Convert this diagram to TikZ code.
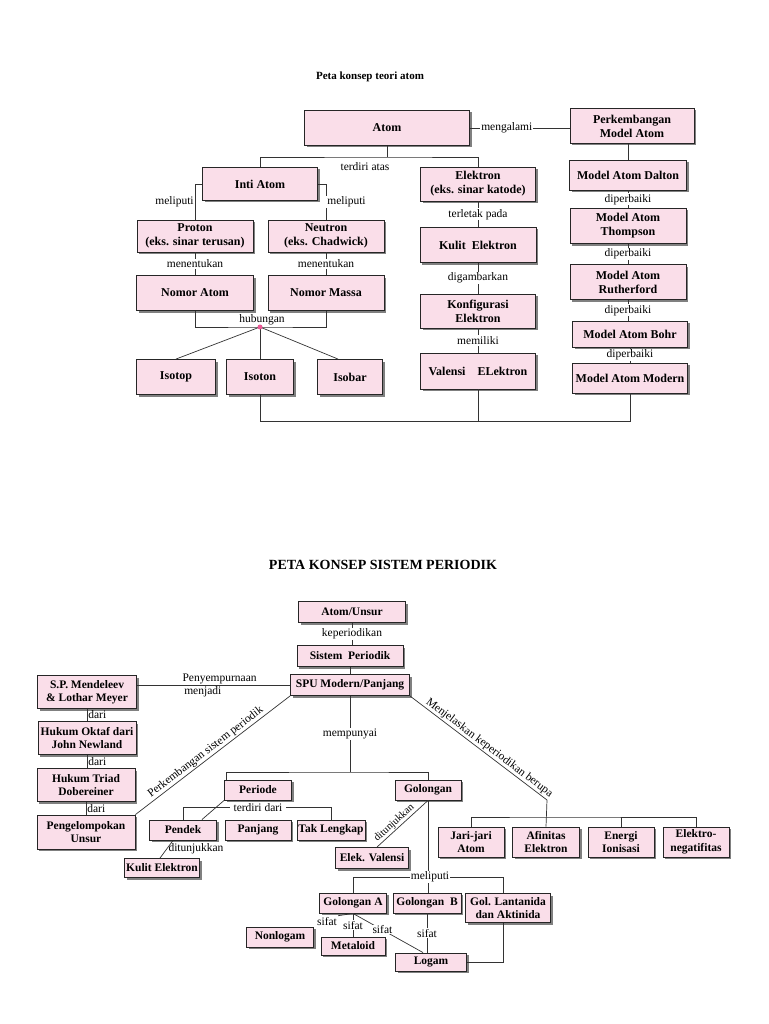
\documentclass[tikz,border=0pt]{standalone}
\usepackage{fontspec}
\setmainfont{Liberation Serif}
\usetikzlibrary{shadows}
\definecolor{merahmuda}{RGB}{250,222,233}
\definecolor{titikpink}{RGB}{235,90,150}

\begin{document}
\begin{tikzpicture}
	[x=1pt, y=-1pt,
	kotak/.style={draw=black!85, line width=0.9pt, fill=merahmuda, align=center, inner sep=1pt,
		font=\bfseries\fontsize{12}{14}\selectfont,
		drop shadow={shadow xshift=2pt, shadow yshift=-2pt, fill=black!50, opacity=1}},
	kotakkecil/.style={kotak, font=\bfseries\fontsize{11.5}{13.5}\selectfont},
	teks/.style={inner sep=1pt, font=\fontsize{11.5}{12}\selectfont},
	ket/.style={teks, fill=white},
	hub/.style={draw=black!80, line width=0.7pt}]
	\fill[white] (0,0) rectangle (768,1024);
	\useasboundingbox (0,0) rectangle (768,1024);

	\node[font=\bfseries\fontsize{11}{13}\selectfont] (judulatom) at (370,77) {Peta konsep teori atom};

	\node[kotak, minimum width=165, minimum height=35] (atom) at (387,128) {Atom};
	\node[kotak, minimum width=124, minimum height=35] (perkembangan) at (632,126) {Perkembangan\\Model Atom};
	\node[kotak, minimum width=115, minimum height=33] (inti) at (260,184) {Inti Atom};
	\node[kotak, minimum width=115, minimum height=34] (elektron) at (478,184) {Elektron\\(eks. sinar katode)};
	\node[kotak, minimum width=116, minimum height=32] (proton) at (195,236) {Proton\\(eks. sinar terusan)};
	\node[kotak, minimum width=116, minimum height=32] (neutron) at (326,236) {Neutron\\(eks. Chadwick)};
	\node[kotak, minimum width=117, minimum height=35] (nomoratom) at (195,293) {Nomor Atom};
	\node[kotak, minimum width=116, minimum height=35] (nomormassa) at (326,293) {Nomor Massa};
	\node[kotak, minimum width=79, minimum height=35] (isotop) at (176,377) {Isotop};
	\node[kotak, minimum width=67, minimum height=35] (isoton) at (260,377) {Isoton};
	\node[kotak, minimum width=65, minimum height=35] (isobar) at (350,377) {Isobar};
	\node[kotak, minimum width=116, minimum height=35] (kulit) at (478,245) {Kulit\ \ Elektron};
	\node[kotak, minimum width=115, minimum height=34] (konfigurasi) at (478,311) {Konfigurasi\\Elektron};
	\node[kotak, minimum width=115, minimum height=36] (valensi) at (478,371) {Valensi\quad ELektron};
	\node[kotak, minimum width=117, minimum height=30] (dalton) at (628,175) {Model Atom Dalton};
	\node[kotak, minimum width=116, minimum height=35] (thompson) at (628,226) {Model Atom\\Thompson};
	\node[kotak, minimum width=116, minimum height=35] (rutherford) at (628,282) {Model Atom\\Rutherford};
	\node[kotak, minimum width=115, minimum height=26] (bohr) at (630,334) {Model Atom Bohr};
	\node[kotak, minimum width=115, minimum height=30] (modern) at (630,378) {Model Atom Modern};

	\draw[hub] (atom.east) -- node[ket, pos=0.37]{mengalami} (atom.east -| perkembangan.west);
	\coordinate (terdiri) at (387,157);
	\draw[hub] (atom.south) -- (terdiri);
	\draw[hub] (inti.north) |- (terdiri) -| (elektron.north);
	\node[teks] (lterdiri) at (365,167) {terdiri atas};
	\draw[hub] (inti.west) -| node[ket, pos=0.75, left]{meliputi} (proton.north);
	\draw[hub] (inti.east) -| node[ket, pos=0.75, right]{meliputi} (neutron.north);
	\draw[hub] (proton) -- node[ket]{menentukan} (nomoratom);
	\draw[hub] (neutron) -- node[ket]{menentukan} (nomormassa);
	\coordinate (hubungan) at (260,327);
	\draw[hub] (nomoratom.south) |- (hubungan) -| (nomormassa.south);
	\node[teks, above, inner sep=1.5pt] (lhubungan) at (262,327) {hubungan};
	\draw[hub] (hubungan) -- (isotop.north);
	\draw[hub] (hubungan) -- (isoton.north);
	\draw[hub] (hubungan) -- ([xshift=-12pt]isobar.north);
	\fill[titikpink] (hubungan) circle (2.5pt);
	\coordinate (dasar) at (260,421);
	\draw[hub] (isoton.south) |- (dasar) -| (modern.south);
	\draw[hub] (valensi.south) -- (valensi.south |- dasar);
	\draw[hub] (elektron) -- node[ket]{terletak pada} (kulit);
	\draw[hub] (kulit) -- node[ket]{digambarkan} (konfigurasi);
	\draw[hub] (konfigurasi) -- node[ket]{memiliki} (valensi);
	\draw[hub] (perkembangan.south -| dalton) -- (dalton);
	\draw[hub] (dalton) -- node[ket]{diperbaiki} (thompson);
	\draw[hub] (thompson) -- node[ket]{diperbaiki} (rutherford);
	\draw[hub] (rutherford.south) -- node[ket]{diperbaiki} (rutherford.south |- bohr.north);
	\draw[hub] (bohr) -- node[ket]{diperbaiki} (modern);

	\node[font=\bfseries\fontsize{14}{16}\selectfont] (judulperiodik) at (383,565) {PETA KONSEP SISTEM PERIODIK};

	\node[kotakkecil, minimum width=107, minimum height=21] (atomunsur) at (352,612) {Atom/Unsur};
	\node[kotakkecil, minimum width=106, minimum height=21] (sistem) at (350,656) {Sistem\ \ Periodik};
	\node[kotakkecil, minimum width=119, minimum height=21] (spu) at (350,685) {SPU Modern/Panjang};
	\node[kotakkecil, minimum width=99, minimum height=33] (mendeleev) at (87,692) {S.P. Mendeleev\\\& Lothar Meyer};
	\node[kotakkecil, minimum width=98, minimum height=33] (oktaf) at (87,738) {Hukum Oktaf dari\\John Newland};
	\node[kotakkecil, minimum width=98, minimum height=33] (triad) at (86,785) {Hukum Triad\\Dobereiner};
	\node[kotakkecil, minimum width=98, minimum height=34] (pengelompokan) at (86,832) {Pengelompokan\\Unsur};
	\node[kotakkecil, minimum width=67, minimum height=20] (periode) at (258,790) {Periode};
	\node[kotakkecil, minimum width=66, minimum height=20] (golongan) at (428,790) {Golongan};
	\node[kotakkecil, minimum width=67, minimum height=20] (pendek) at (183,830) {Pendek};
	\node[kotakkecil, minimum width=66, minimum height=20] (panjang) at (258,830) {Panjang};
	\node[kotakkecil, minimum width=68, minimum height=20] (taklengkap) at (331,830) {Tak Lengkap};
	\node[kotakkecil, minimum width=75, minimum height=19] (kulitpendek) at (162,868) {Kulit Elektron};
	\node[kotakkecil, minimum width=73, minimum height=21] (valensigol) at (372,858) {Elek. Valensi};
	\node[kotakkecil, minimum width=66, minimum height=30] (jarijari) at (471,842) {Jari-jari\\Atom};
	\node[kotakkecil, minimum width=67, minimum height=30] (afinitas) at (546,842) {Afinitas\\Elektron};
	\node[kotakkecil, minimum width=66, minimum height=30] (energi) at (621,842) {Energi\\Ionisasi};
	\node[kotakkecil, minimum width=66, minimum height=30] (elektroneg) at (696,842) {Elektro-\\negatifitas};
	\node[kotakkecil, minimum width=67, minimum height=20] (golA) at (353,903) {Golongan A};
	\node[kotakkecil, minimum width=68, minimum height=20] (golB) at (427,903) {Golongan\ \ B};
	\node[kotakkecil, minimum width=85, minimum height=29] (lantanida) at (508,908) {Gol. Lantanida\\dan Aktinida};
	\node[kotakkecil, minimum width=67, minimum height=20] (nonlogam) at (280,937) {Nonlogam};
	\node[kotakkecil, minimum width=64, minimum height=18] (metaloid) at (353,946) {Metaloid};
	\node[kotakkecil, minimum width=71, minimum height=18] (logam) at (431,962) {Logam};

	\draw[hub] (atomunsur.south) -- node[ket]{keperiodikan} (atomunsur.south |- sistem.north);
	\draw[hub] (sistem) -- (spu);
	\draw[hub] (spu.west) -- node[teks, pos=0.46, above]{Penyempurnaan} node[teks, pos=0.57, below]{menjadi} (spu.west -| mendeleev.east);
	\draw[hub] (mendeleev) -- node[teks, right]{dari} (oktaf);
	\draw[hub] (oktaf.south) -- node[teks, right]{dari} (oktaf.south |- triad.north);
	\draw[hub] (triad) -- node[teks, right]{dari} (pengelompokan);
	\draw[hub] (pengelompokan.north east) -- node[teks, sloped, above, pos=0.48]{Perkembangan sistem periodik} (spu.south west);
	\coordinate (berupa) at (547,800);
	\draw[hub] (spu.south east) -- node[teks, sloped, above, pos=0.55]{Menjelaskan keperiodikan berupa} (berupa) -- (afinitas.north);
	\coordinate (sifatperiodik) at (547,817);
	\draw[hub] (jarijari.north) |- (sifatperiodik) -| (elektroneg.north);
	\draw[hub] (energi.north) -- (energi.north |- sifatperiodik);
	\coordinate (punya) at (350,772);
	\draw[hub] (spu.south) -- node[ket]{mempunyai} (punya);
	\draw[hub] ([xshift=2pt]periode.north west) |- (punya) -| (golongan.north);
	\draw[hub] (periode.south west) -- ([xshift=-15pt]pendek.north east);
	\draw[hub] (pendek.north) -- ++(0,-12) -| (taklengkap.north);
	\node[ket, inner xsep=4pt] (lterdiridari) at (258,808) {terdiri dari};
	\draw[hub] ([xshift=-10pt]pendek.south) -- node[teks, right, pos=0.45]{ditunjukkan} ([xshift=-2pt]kulitpendek.north);
	\draw[hub] ([xshift=5pt]valensigol.north) -- node[teks, sloped, above, pos=0.42, font=\fontsize{10.5}{11}\selectfont]{ditunjukkan} (golongan.south);
	\coordinate (meliputi) at (428,877);
	\draw[hub] (golongan.south) -- (golongan.south |- golB.north);
	\draw[hub] (golA.north) |- (meliputi) -| ([xshift=-5pt]lantanida.north);
	\node[ket] (lmeliputi) at (430,877) {meliputi};
	\node[teks] (sifatnon) at (327,921) {sifat};
	\draw[hub] (golA.south) -- (sifatnon.north east);
	\draw[hub] (golA.south) -- node[ket, inner sep=0.5pt]{sifat} (metaloid.north);
	\draw[hub] (golA.south) -- node[ket, inner sep=0.5pt, pos=0.42]{sifat} ([xshift=-8pt]logam.north);
	\draw[hub] (golB.south) -- node[ket]{sifat} (golB.south |- logam.north);
	\draw[hub] ([xshift=-5pt]lantanida.south) |- (logam.east);
\end{tikzpicture}
\end{document}
